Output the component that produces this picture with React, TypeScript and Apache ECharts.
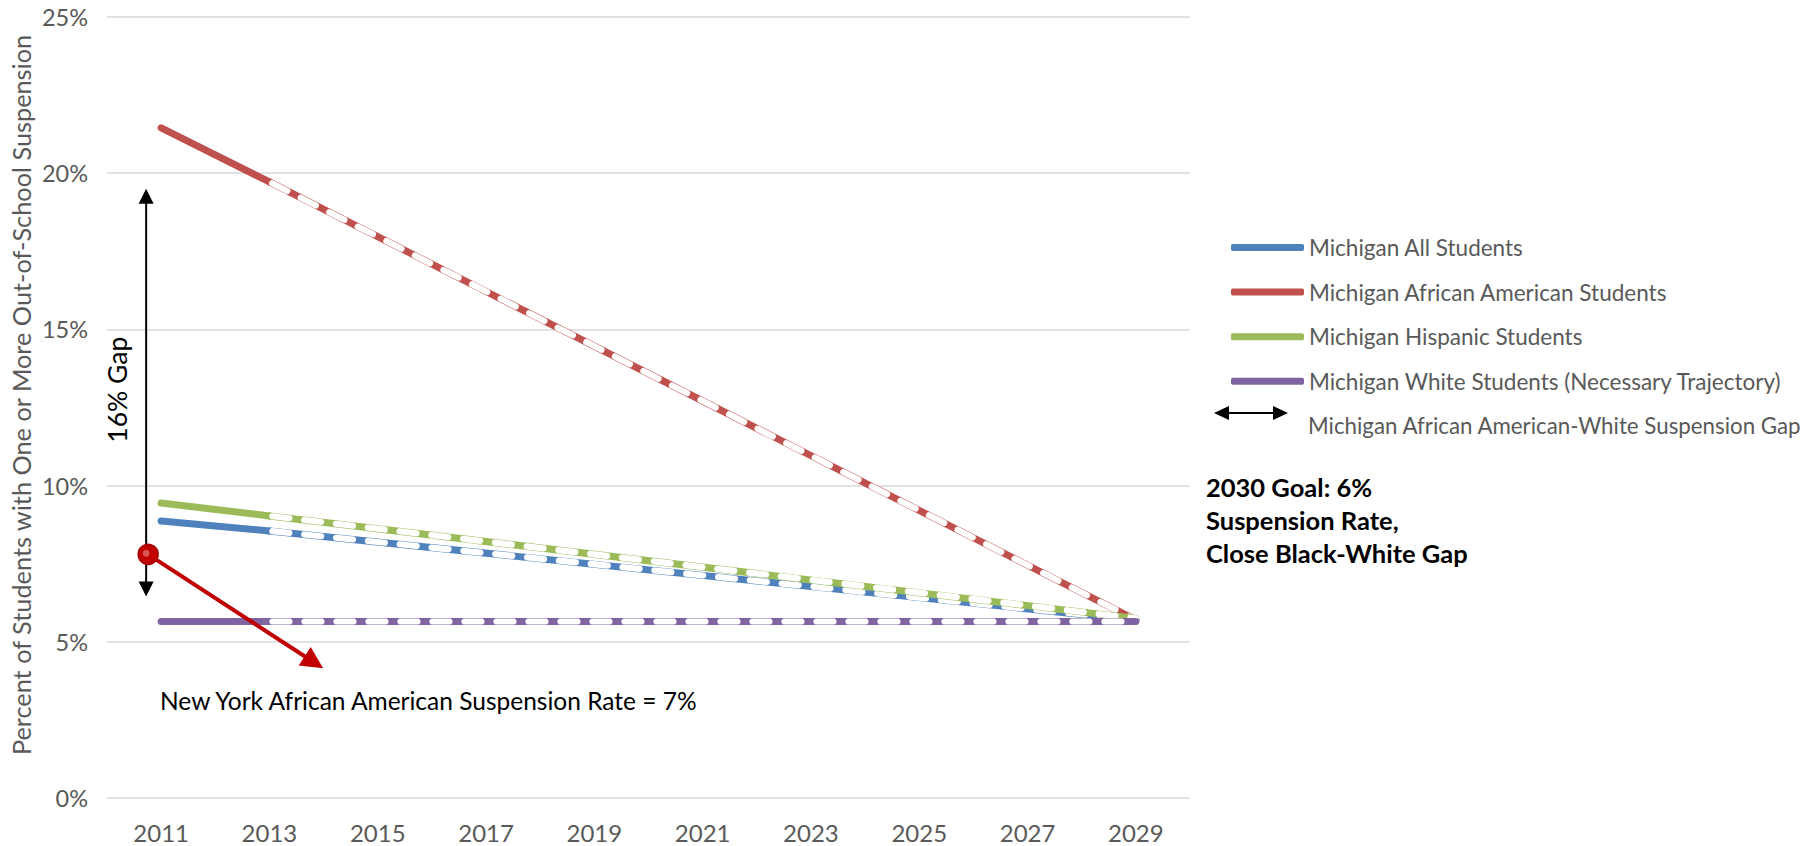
import React, { useEffect, useRef } from "react";
import * as echarts from "echarts";

const years = ["2011", "2013", "2015", "2017", "2019", "2021", "2023", "2025", "2027", "2029"];
const yTicks = [0, 5, 10, 15, 20, 25];

const seriesNames = [
  "Michigan All Students",
  "Michigan African American Students",
  "Michigan Hispanic Students",
  "Michigan White Students (Necessary Trajectory)",
];
const seriesColors = ["#4F81BD", "#C0504D", "#9BBB59", "#8064A2"];

// actual (solid) values 2011-2013
const allActual = [8.87, 8.55, null, null, null, null, null, null, null, null];
const aaActual = [21.45, 19.72, null, null, null, null, null, null, null, null];
const hispActual = [9.44, 9.03, null, null, null, null, null, null, null, null];
const whiteActual = [5.65, 5.65, null, null, null, null, null, null, null, null];

// trajectory (dashed) values 2013-2029
const allTarget = [null, 8.55, null, null, null, null, null, null, null, 5.7];
const aaTarget = [null, 19.72, null, null, null, null, null, null, null, 5.7];
const hispTarget = [null, 9.03, null, null, null, null, null, null, null, 5.75];
const whiteTarget = [null, 5.65, null, null, null, null, null, null, null, 5.65];

const actualData = [allActual, aaActual, hispActual, whiteActual];
const targetData = [allTarget, aaTarget, hispTarget, whiteTarget];

const gapTop = 19.5;
const gapBottom = 6.45;
const nyRate = 7.8;

const FONT = "Lato";
const GRAY = "#595959";

function arrowHead(tip: number[], dir: number[], len: number, half: number) {
  const l = Math.hypot(dir[0], dir[1]);
  const u = [dir[0] / l, dir[1] / l];
  const n = [-u[1], u[0]];
  const b = [tip[0] - u[0] * len, tip[1] - u[1] * len];
  return [
    [tip[0], tip[1]],
    [b[0] + n[0] * half, b[1] + n[1] * half],
    [b[0] - n[0] * half, b[1] - n[1] * half],
  ];
}

export default function App() {
  const ref = useRef<HTMLDivElement>(null);
  useEffect(() => {
    if (!ref.current) return;
    const chart = echarts.init(ref.current, null, { renderer: "svg" });
    const series: any[] = [];
    seriesNames.forEach((name, i) => {
      const color = seriesColors[i];
      series.push({
        name,
        type: "line",
        data: actualData[i],
        showSymbol: false,
        symbol: "none",
        itemStyle: { color },
        lineStyle: { width: 7, color, cap: "round" },
        z: 2 + i * 3,
      });
      series.push({
        name: name + " trajectory",
        type: "line",
        data: targetData[i],
        connectNulls: true,
        showSymbol: false,
        symbol: "none",
        itemStyle: { color },
        lineStyle: { width: 7, color, cap: "round" },
        z: 3 + i * 3,
      });
      series.push({
        name: name + " trajectory overlay",
        type: "line",
        data: targetData[i],
        connectNulls: true,
        showSymbol: false,
        symbol: "none",
        itemStyle: { color: "#ffffff" },
        lineStyle: { width: 6.2, color: "#ffffff", cap: "round", type: [17, 15], dashOffset: -3 },
        z: 4 + i * 3,
      });
    });

    chart.setOption({
      animation: false,
      backgroundColor: "#ffffff",
      textStyle: { fontFamily: FONT },
      grid: { left: 107, right: 625, top: 17, bottom: 48, containLabel: false },
      legend: {
        data: seriesNames,
        orient: "vertical",
        left: 1226,
        top: 231,
        icon: "roundRect",
        itemWidth: 73,
        itemHeight: 7,
        itemGap: 21.6,
        selectedMode: false,
        textStyle: { fontFamily: FONT, fontSize: 22.5, color: GRAY, lineHeight: 22 },
      },
      xAxis: {
        type: "category",
        data: years,
        boundaryGap: true,
        axisLine: { show: false },
        axisTick: { show: false },
        axisLabel: { fontFamily: FONT, fontSize: 24, color: GRAY, margin: 22 },
        splitLine: { show: false },
      },
      yAxis: {
        type: "value",
        min: 0,
        max: 25,
        interval: 5,
        axisLine: { show: false },
        axisTick: { show: false },
        axisLabel: {
          fontFamily: FONT,
          fontSize: 23.5,
          color: GRAY,
          margin: 19,
          formatter: (v: number) => (yTicks.includes(v) ? v + "%" : ""),
        },
        splitLine: { lineStyle: { color: "#d9d9d9", width: 1.5 } },
      },
      series,
    });

    const p = (cat: string, v: number) =>
      chart.convertToPixel({ gridIndex: 0 }, [cat, v]) as number[];

    const x0 = p(years[0], 0)[0] - 15;
    const yT = p(years[0], gapTop)[1];
    const yB = p(years[0], gapBottom)[1];

    const ny = p(years[0], nyRate);
    const nyC = [ny[0] - 13, ny[1]];
    const nyTip = [nyC[0] + 175, nyC[1] + 114];
    const dir = [nyTip[0] - nyC[0], nyTip[1] - nyC[1]];
    const dl = Math.hypot(dir[0], dir[1]);
    const lineEnd = [nyTip[0] - (dir[0] / dl) * 18, nyTip[1] - (dir[1] / dl) * 18];

    const legArrowY = 413;
    const legX1 = 1214;
    const legX2 = 1288;

    chart.setOption({
      graphic: [
        // y axis title
        {
          type: "text",
          x: 21,
          y: 395,
          rotation: Math.PI / 2,
          style: {
            text: "Percent of Students with One or More Out-of-School Suspension",
            fontFamily: FONT,
            fontSize: 25.3,
            fill: GRAY,
            align: "center",
            verticalAlign: "middle",
          },
          z: 50,
        },
        // 16% gap arrow
        {
          type: "line",
          shape: { x1: x0, y1: yT + 12, x2: x0, y2: yB - 12 },
          style: { stroke: "#000", lineWidth: 2 },
          z: 50,
        },
        { type: "polygon", shape: { points: arrowHead([x0, yT], [0, -1], 15, 7.5) }, style: { fill: "#000" }, z: 50 },
        { type: "polygon", shape: { points: arrowHead([x0, yB], [0, 1], 15, 7.5) }, style: { fill: "#000" }, z: 50 },
        {
          type: "text",
          x: 117,
          y: (yT + yB) / 2 - 3,
          rotation: Math.PI / 2,
          style: {
            text: "16% Gap",
            fontFamily: FONT,
            fontSize: 26.5,
            fill: "#000",
            align: "center",
            verticalAlign: "middle",
          },
          z: 50,
        },
        // New York marker and arrow
        {
          type: "line",
          shape: { x1: nyC[0], y1: nyC[1], x2: lineEnd[0], y2: lineEnd[1] },
          style: { stroke: "#C00000", lineWidth: 4 },
          z: 50,
        },
        { type: "polygon", shape: { points: arrowHead(nyTip, dir, 22, 11) }, style: { fill: "#C00000" }, z: 50 },
        {
          type: "circle",
          shape: { cx: nyC[0], cy: nyC[1], r: 10 },
          style: { fill: "#C00000", stroke: "#A00000", lineWidth: 1.5 },
          z: 51,
        },
        {
          type: "circle",
          shape: { cx: nyC[0] - 2, cy: nyC[1] - 1, r: 3.5 },
          style: { fill: "#E06A6A", opacity: 0.8 },
          z: 52,
        },
        {
          type: "text",
          x: 160,
          y: 700,
          style: {
            text: "New York African American Suspension Rate = 7%",
            fontFamily: FONT,
            fontSize: 24.5,
            fill: "#000",
            align: "left",
            verticalAlign: "middle",
          },
          z: 50,
        },
        // 2030 goal text
        {
          type: "text",
          x: 1206,
          y: 470,
          style: {
            text: "2030 Goal: 6%\nSuspension Rate,\nClose Black-White Gap",
            fontFamily: FONT,
            fontSize: 25.5,
            fontWeight: "bold",
            lineHeight: 33,
            fill: "#000",
            align: "left",
            verticalAlign: "top",
          },
          z: 50,
        },
        // legend: gap arrow
        {
          type: "line",
          shape: { x1: legX1 + 12, y1: legArrowY, x2: legX2 - 12, y2: legArrowY },
          style: { stroke: "#000", lineWidth: 2 },
          z: 50,
        },
        { type: "polygon", shape: { points: arrowHead([legX1, legArrowY], [-1, 0], 15, 7) }, style: { fill: "#000" }, z: 50 },
        { type: "polygon", shape: { points: arrowHead([legX2, legArrowY], [1, 0], 15, 7) }, style: { fill: "#000" }, z: 50 },
        {
          type: "text",
          x: 1308,
          y: 425,
          style: {
            text: "Michigan African American-White Suspension Gap",
            fontFamily: FONT,
            fontSize: 22.3,
            fill: GRAY,
            align: "left",
            verticalAlign: "middle",
          },
          z: 50,
        },
      ],
    });

    return () => chart.dispose();
  }, []);

  return (
    <div
      ref={ref}
      style={{ position: "absolute", left: 0, top: 0, width: 1815, height: 846, background: "#fff" }}
    />
  );
}
